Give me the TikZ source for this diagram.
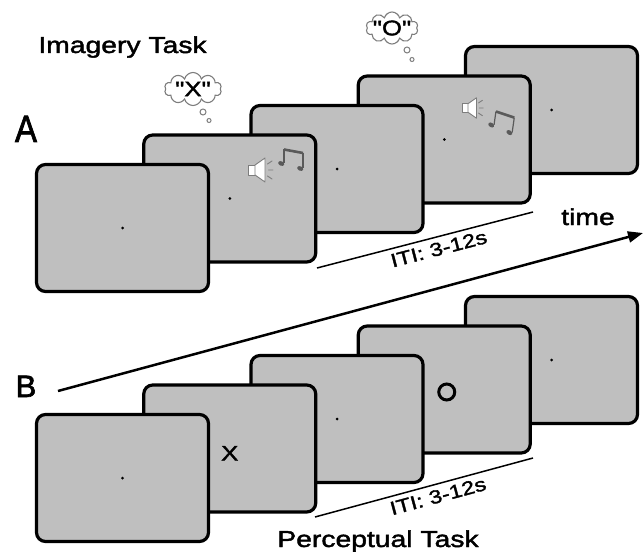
\documentclass[tikz,border=0pt]{standalone}
\usepackage{fontspec}
\setmainfont{Liberation Sans}[FakeStretch=1.23, FakeBold=1.8]
\newfontfamily\panelfont{Liberation Sans}[FakeBold=2]
\newfontfamily\quotefont{Liberation Sans}[FakeStretch=1.23, FakeBold=1.8, Ligatures=TeXOff]
\usetikzlibrary{arrows.meta,shapes.symbols,calc}
\definecolor{screengray}{RGB}{191,191,191}
\definecolor{icongray}{RGB}{125,125,125}
\definecolor{notegray}{RGB}{90,90,90}

\tikzset{
  speaker/.pic={
    \draw[icongray, line width=0.9pt, fill=white, line join=round] (0,-5) rectangle (7,5);
    \draw[icongray, line width=0.9pt, fill=white, line join=round]
      (7,-5) -- (17,-12) -- (17,12) -- (7,5) -- cycle;
    \draw[icongray, line width=0.9pt, line cap=round]
      (19.5,-6) -- (24,-9) (20.5,0) -- (25,0) (19.5,6) -- (24,9);
  },
  beamednotes/.pic={
    \draw[notegray, line width=1.2pt] (0,14) -- (0,0.5);
    \draw[notegray, line width=1.2pt] (19,4) -- (19,19);
    \draw[notegray, line width=2.6pt] (0,0.5) -- (19,4);
    \fill[notegray, rotate around={-25:(-2.8,14.5)}] (-2.8,14.5) ellipse (3.2pt and 2.2pt);
    \fill[notegray, rotate around={-25:(16.2,19.5)}] (16.2,19.5) ellipse (3.2pt and 2.2pt);
  }
}

\begin{document}
\begin{tikzpicture}[x=1pt,y=-1pt,
  screen/.style={draw=black, line width=3.2pt, fill=screengray, rounded corners=9pt,
    minimum width=172pt, minimum height=127pt, inner sep=0pt},
  fixdot/.style={circle, fill=black, inner sep=0pt, minimum size=3pt},
  bigtext/.style={font=\fontsize{23}{27}\selectfont, inner sep=0pt, anchor=base},
  panellabel/.style={inner sep=0pt, anchor=base},
  itilabel/.style={font=\fontsize{19}{22}\selectfont, inner sep=1.5pt},
  itiline/.style={line width=1.5pt},
  thought/.style={cloud, cloud puffs=10, draw=icongray, line width=1.1pt, fill=white,
    inner sep=0pt},
  bubble/.style={draw=icongray, line width=1pt, fill=white},
  quote/.style={font=\quotefont\fontsize{21}{24}\selectfont, inner sep=0pt}
]
\useasboundingbox (0,0) rectangle (644,556);

% ---------- panel A: imagery task ----------
\node[screen] (A5) at (551.5,110) {};
\node[screen] (A4) at (444.25,139.5) {};
\node[screen] (A3) at (337,169) {};
\node[screen] (A2) at (229.75,198.5) {};
\node[screen] (A1) at (122.5,228) {};

\foreach \s in {A1,A2,A3,A4,A5} \node[fixdot] (d\s) at (\s.center) {};

% sound cues
\pic at (248,170) {speaker};
\pic at (284,149) {beamednotes};
\pic[scale=0.85] at (462,108) {speaker};
\pic[rotate=-8] at (496,111) {beamednotes};

% thought bubbles
\node[thought, minimum width=57pt, minimum height=33pt] (cloudX) at (193,89) {};
\node[quote] (txtX) at (cloudX.center) {"X"};
\draw[bubble] (203,112) circle (3pt);
\draw[bubble] (209,120.5) circle (2pt);

\node[thought, minimum width=52pt, minimum height=32pt] (cloudO) at (392,28) {};
\node[quote] (txtO) at (cloudO.center) {"O"};
\draw[bubble] (407,50) circle (3pt);
\draw[bubble] (412,59.5) circle (2pt);

% inter-trial interval
\coordinate (itiA0) at (317,268);
\coordinate (itiA1) at (533,212);
\draw[itiline] (itiA0) -- node[pos=0.55, sloped, below=3pt, itilabel] (itiAlbl) {ITI: 3-12s} (itiA1);

% ---------- panel B: perceptual task ----------
\node[screen] (B5) at (551.5,360) {};
\node[screen] (B4) at (444.25,389.5) {};
\node[screen] (B3) at (337,419) {};
\node[screen] (B2) at (229.75,448.5) {};
\node[screen] (B1) at (122.5,478) {};

\foreach \s in {B1,B3,B5} \node[fixdot] (d\s) at (\s.center) {};
\node[quote, anchor=base] (stimX) at ($(B2.center)+(0,12)$) {X};
\node[circle, draw=black, line width=3pt, minimum size=16pt, inner sep=0pt] (stimO)
  at ($(B4.center)+(2.5,2.5)$) {};

\coordinate (itiB0) at (315,517);
\coordinate (itiB1) at (533,458);
\draw[itiline] (itiB0) -- node[pos=0.55, sloped, below=3pt, itilabel] (itiBlbl) {ITI: 3-12s} (itiB1);

% ---------- time axis and labels ----------
\coordinate (t0) at (58,391);
\coordinate (t1) at (643,233);
\draw[line width=2.5pt, -{Triangle[length=15pt,width=11pt]}] (t0) -- (t1);

\node[bigtext] (timelbl) at (588,225) {time};
\node[bigtext] (imgtask) at (122.5,53) {Imagery Task};
\node[bigtext] (perctask) at (378,547) {Perceptual Task};
\node[panellabel, font=\panelfont\fontsize{38}{40}\selectfont] (lblA) at (26,142) {\scalebox{0.87}[1]{A}};
\node[panellabel, font=\panelfont\fontsize{31}{34}\selectfont] (lblB) at (26,397) {B};

\end{tikzpicture}
\end{document}
